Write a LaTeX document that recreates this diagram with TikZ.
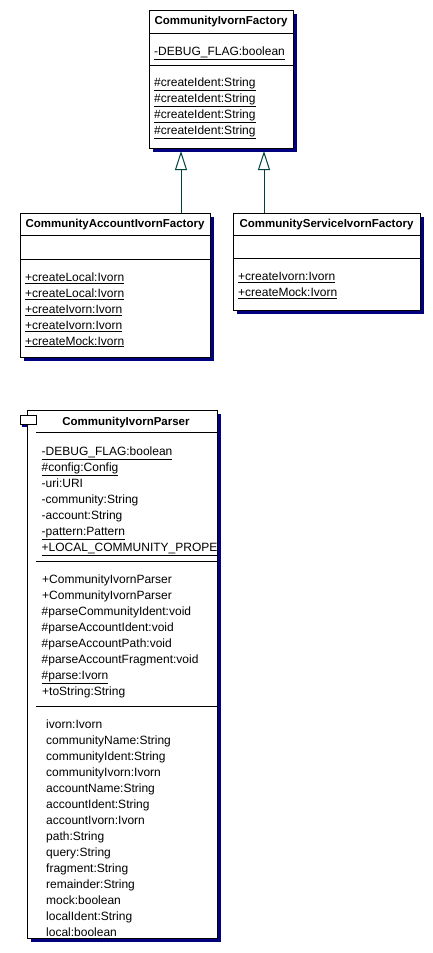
\documentclass[tikz,border=0pt]{standalone}
\usepackage{fontspec}
\setmainfont{Liberation Sans}
\usepackage{tikz}
\usetikzlibrary{arrows.meta,shadows}
\definecolor{umlnavy}{RGB}{0,0,128}
\definecolor{umlteal}{RGB}{0,64,64}
\tikzset{
	classbox/.style={draw=black, line width=1pt, fill=white, inner sep=0pt, anchor=north west,
		drop shadow={shadow xshift=3pt, shadow yshift=-3pt, fill=umlnavy, opacity=1}},
	classname/.style={inner sep=0pt, anchor=base, font=\fontsize{11.5}{14}\selectfont\bfseries},
	member/.style={inner sep=0pt, anchor=base west, font=\fontsize{12}{14}\selectfont},
	compart/.style={line width=1pt},
	generalize/.style={draw=umlteal, line width=1pt, -{Triangle[length=19pt, width=12pt, fill=white]}}
}

\begin{document}
\begin{tikzpicture}[x=1pt, y=-1pt]
		%%%%% START %%%%%
		\useasboundingbox (0, 0) rectangle (433, 953);
		
		% factory
		\node[classbox, minimum width=144pt, minimum height=138pt] (fac) at (149, 10) {};
		\draw[compart] (149, 33) -- (293, 33);
		\draw[compart] (149, 65) -- (293, 65);
		\node[classname] (facName) at (221, 24.5) {CommunityIvornFactory};
		\node[member] (facA1) at (154, 55.5) {\underline{-DEBUG\_FLAG:boolean}};
		\node[member] (facM1) at (154, 86.5) {\underline{\#createIdent:String}};
		\node[member] (facM2) at (154, 102.5) {\underline{\#createIdent:String}};
		\node[member] (facM3) at (154, 118.5) {\underline{\#createIdent:String}};
		\node[member] (facM4) at (154, 134.5) {\underline{\#createIdent:String}};
		
		% account factory
		\node[classbox, minimum width=190pt, minimum height=144pt] (acct) at (20, 213) {};
		\draw[compart] (20, 235) -- (210, 235);
		\draw[compart] (20, 259) -- (210, 259);
		\node[classname] (acctName) at (115, 227) {CommunityAccountIvornFactory};
		\node[member] (acctM1) at (25, 281.5) {\underline{+createLocal:Ivorn}};
		\node[member] (acctM2) at (25, 297.5) {\underline{+createLocal:Ivorn}};
		\node[member] (acctM3) at (25, 313.5) {\underline{+createIvorn:Ivorn}};
		\node[member] (acctM4) at (25, 329.5) {\underline{+createIvorn:Ivorn}};
		\node[member] (acctM5) at (25, 345) {\underline{+createMock:Ivorn}};
		
		% service factory
		\node[classbox, minimum width=187pt, minimum height=97pt] (serv) at (233, 213) {};
		\draw[compart] (233, 235) -- (420, 235);
		\draw[compart] (233, 258) -- (420, 258);
		\node[classname] (servName) at (326.5, 227) {CommunityServiceIvornFactory};
		\node[member] (servM1) at (238, 280.5) {\underline{+createIvorn:Ivorn}};
		\node[member] (servM2) at (238, 296.5) {\underline{+createMock:Ivorn}};
		
		% inheritance
		\coordinate (facTipA) at (181, 151);
		\coordinate (facTipB) at (264, 151);
		\draw[generalize] (acct.north -| facTipA) -- (facTipA);
		\draw[generalize] (serv.north -| facTipB) -- (facTipB);
		
		% parser
		\fill[umlnavy] (22, 418) rectangle (38, 427);
		\node[classbox, minimum width=190pt, minimum height=528pt] (parser) at (27, 410) {};
		\draw[line width=1pt, fill=white] (20, 415) rectangle (36, 424);
		\draw[compart] (36, 432) -- (217, 432);
		\draw[compart] (36, 561) -- (217, 561);
		\draw[compart] (36, 706) -- (217, 706);
		\node[classname] (parserName) at (126, 425) {CommunityIvornParser};
		
		\node[member] (parA1) at (41.5, 455.5) {\underline{-DEBUG\_FLAG:boolean}};
		\node[member] (parA2) at (41.5, 471.5) {\underline{\#config:Config}};
		\node[member] (parA3) at (41.5, 487.5) {-uri:URI};
		\node[member] (parA4) at (41.5, 503.5) {-community:String};
		\node[member] (parA5) at (41.5, 519.5) {-account:String};
		\node[member] (parA6) at (41.5, 535.5) {\underline{-pattern:Pattern}};
		\node[member] (parA7) at (41.5, 551.5) {\underline{+LOCAL\_COMMUNITY\_PROPE}};
		
		\node[member] (parM1) at (42, 583.5) {+CommunityIvornParser};
		\node[member] (parM2) at (42, 599.5) {+CommunityIvornParser};
		\node[member] (parM3) at (41.5, 615.5) {\#parseCommunityIdent:void};
		\node[member] (parM4) at (41.5, 631.5) {\#parseAccountIdent:void};
		\node[member] (parM5) at (41.5, 647.5) {\#parseAccountPath:void};
		\node[member] (parM6) at (41.5, 663.5) {\#parseAccountFragment:void};
		\node[member] (parM7) at (41.5, 679.5) {\underline{\#parse:Ivorn}};
		\node[member] (parM8) at (42, 695.5) {+toString:String};
		
		\node[member] (parP1) at (46, 728) {ivorn:Ivorn};
		\node[member] (parP2) at (46, 744) {communityName:String};
		\node[member] (parP3) at (46, 760) {communityIdent:String};
		\node[member] (parP4) at (46, 776) {communityIvorn:Ivorn};
		\node[member] (parP5) at (46, 792) {accountName:String};
		\node[member] (parP6) at (46, 808) {accountIdent:String};
		\node[member] (parP7) at (46, 824) {accountIvorn:Ivorn};
		\node[member] (parP8) at (46, 840) {path:String};
		\node[member] (parP9) at (46, 856) {query:String};
		\node[member] (parP10) at (46, 872) {fragment:String};
		\node[member] (parP11) at (46, 888) {remainder:String};
		\node[member] (parP12) at (46, 904) {mock:boolean};
		\node[member] (parP13) at (46, 920) {localIdent:String};
		\node[member] (parP14) at (46, 936) {local:boolean};
		
		%%%%% END %%%%%
	\end{tikzpicture}
\end{document}
